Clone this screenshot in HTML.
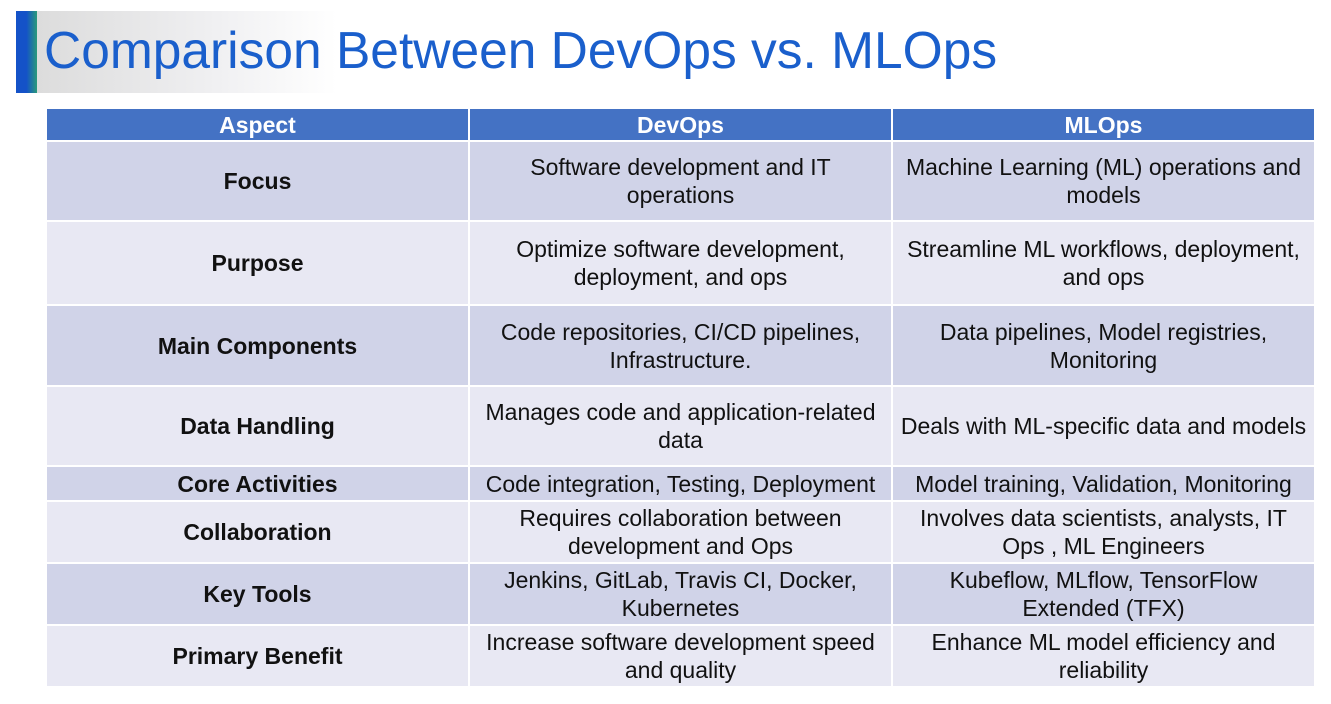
<!DOCTYPE html>
<html><head><style>
body{margin:0;width:1331px;height:704px;background:#fff;position:relative;overflow:hidden;font-family:"Liberation Sans",Arial,sans-serif;}
.bar{position:absolute;left:16px;top:11px;width:21px;height:82px;background:linear-gradient(90deg,#1452c8 0%,#1452c8 50%,#2a9a7a 100%);}
.grad{position:absolute;left:37px;top:11px;width:300px;height:82px;background:linear-gradient(90deg,#dcdcdc,#f0f0f2 60%,#fff);}
h1{position:absolute;left:44px;top:20px;margin:0;font-weight:normal;font-size:51.5px;color:#1a5fcc;white-space:nowrap;}
table{position:absolute;left:45px;top:107px;width:1269px;border-collapse:collapse;table-layout:fixed;}
td,th{border:2px solid #fff;text-align:center;font-size:23px;line-height:28px;color:#111;padding:0;white-space:nowrap;}
th{background:#4472c4;color:#fff;height:31px;}
td.a{font-weight:bold;}
tr.o td{background:#d0d3e8;}
tr.e td{background:#e8e8f3;}
</style></head><body>
<div class="grad"></div><div class="bar"></div>
<h1>Comparison Between DevOps vs. MLOps</h1>
<table>
<colgroup><col style="width:423px"><col style="width:423px"><col style="width:423px"></colgroup>
<tr><th>Aspect</th><th>DevOps</th><th>MLOps</th></tr>
<tr class="o" style="height:80px"><td class="a">Focus</td><td>Software development and IT<br>operations</td><td>Machine Learning (ML) operations and<br>models</td></tr>
<tr class="e" style="height:84px"><td class="a">Purpose</td><td>Optimize software development,<br>deployment, and ops</td><td>Streamline ML workflows, deployment,<br>and ops</td></tr>
<tr class="o" style="height:81px"><td class="a">Main Components</td><td>Code repositories, CI/CD pipelines,<br>Infrastructure.</td><td>Data pipelines, Model registries,<br>Monitoring</td></tr>
<tr class="e" style="height:80px"><td class="a">Data Handling</td><td>Manages code and application-related<br>data</td><td>Deals with ML-specific data and models</td></tr>
<tr class="o" style="height:35px"><td class="a">Core Activities</td><td>Code integration, Testing, Deployment</td><td>Model training, Validation, Monitoring</td></tr>
<tr class="e" style="height:62px"><td class="a">Collaboration</td><td>Requires collaboration between<br>development and Ops</td><td>Involves data scientists, analysts, IT<br>Ops , ML Engineers</td></tr>
<tr class="o" style="height:62px"><td class="a">Key Tools</td><td>Jenkins, GitLab, Travis CI, Docker,<br>Kubernetes</td><td>Kubeflow, MLflow, TensorFlow<br>Extended (TFX)</td></tr>
<tr class="e" style="height:62px"><td class="a">Primary Benefit</td><td>Increase software development speed<br>and quality</td><td>Enhance ML model efficiency and<br>reliability</td></tr>
</table>
</body></html>
